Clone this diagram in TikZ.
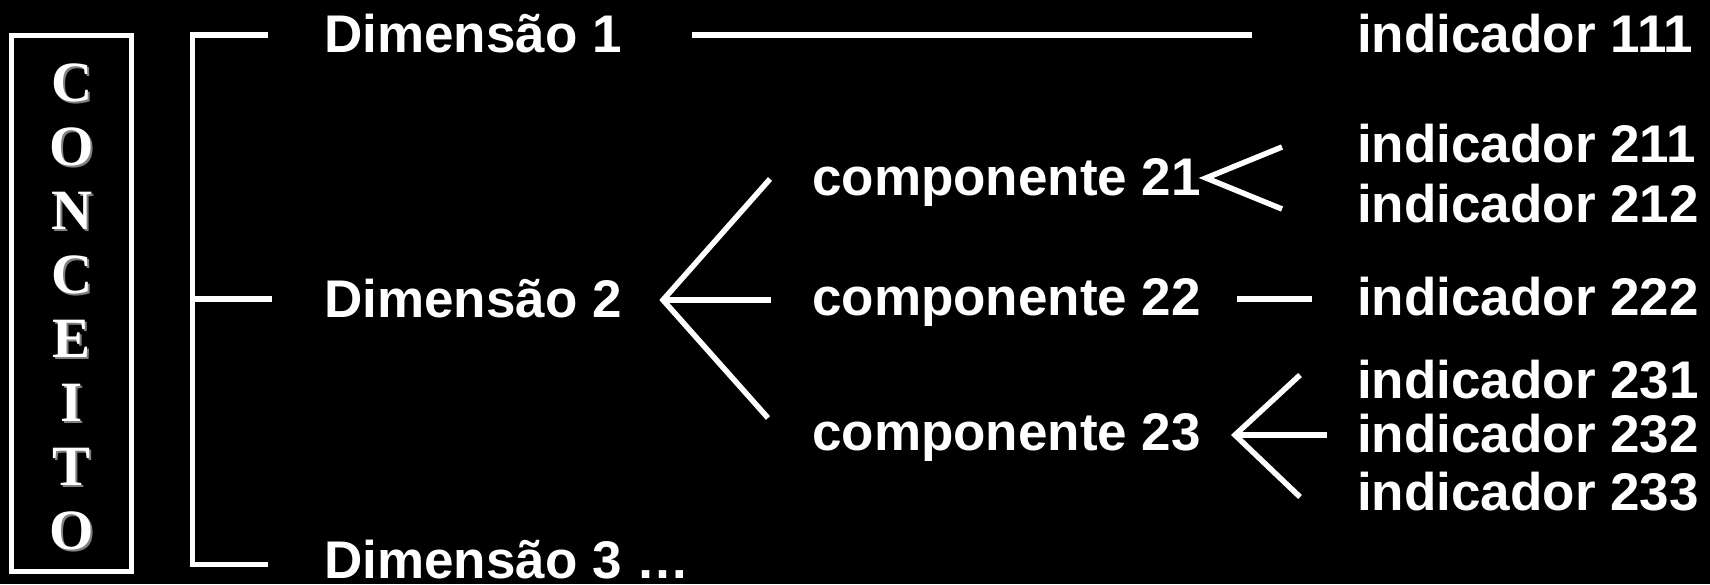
\documentclass[tikz,border=0pt]{standalone}
\usepackage{fontspec}
\setmainfont{Liberation Sans}
\newfontfamily\conceitoFont{Liberation Serif}
\usetikzlibrary{positioning}
\tikzstyle{treeLine} = [color=white, line width=5.5pt]
\tikzstyle{boxLine} = [color=white, line width=5pt]
\tikzstyle{labelText} = [text=white, font=\fontsize{53}{53}\selectfont\bfseries, inner sep=0pt, anchor=base west]
\tikzstyle{letterText} = [font=\conceitoFont\fontsize{57}{57}\selectfont\bfseries, inner sep=0pt, anchor=base]

\begin{document}
\begin{tikzpicture}[x=1pt, y=-1pt]
  \useasboundingbox (0,0) rectangle (1710,584);
  \fill[black] (0,0) rectangle (1710,584);

  % concept box
  \draw[boxLine] (11.5,35) rectangle (131.5,571);
  \foreach \letter [count=\i from 0] in {C,O,N,C,E,I,T,O} {
    \pgfmathsetmacro{\base}{101 + 64 * \i}
    \node[letterText, text=gray] at (74, \base + 2) {\letter};
    \node[letterText, text=white] (letter\i) at (72, \base) {\letter};
  }

  % bracket
  \coordinate (bracketTop) at (192.5,35);
  \coordinate (bracketMid) at (192.5,299);
  \coordinate (bracketBot) at (192.5,564.5);
  \draw[treeLine] (268,35) -- (bracketTop) -- (bracketBot) -- (268,564.5);
  \draw[treeLine] (bracketMid) -- (272,299);

  % dimensions
  \node[labelText] (dim1) at (324,52) {Dimensão 1};
  \node[labelText] (dim2) at (324,317) {Dimensão 2};
  \node[labelText] (dim3) at (324,578) {Dimensão 3 …};

  % components
  \node[labelText] (comp21) at (812,195) {componente 21};
  \node[labelText] (comp22) at (812,315) {componente 22};
  \node[labelText] (comp23) at (812,450) {componente 23};

  % indicators
  \node[labelText] (ind111) at (1357,52) {indicador 111};
  \node[labelText] (ind211) at (1357,162) {indicador 211};
  \node[labelText] (ind212) at (1357,222) {indicador 212};
  \node[labelText] (ind222) at (1357,315) {indicador 222};
  \node[labelText] (ind231) at (1357,398) {indicador 231};
  \node[labelText] (ind232) at (1357,452) {indicador 232};
  \node[labelText] (ind233) at (1357,510) {indicador 233};

  % connectors
  \coordinate (dim1Start) at (692,35);
  \coordinate (dim1End) at (1252,35);
  \draw[treeLine] (dim1Start) -- (dim1End);

  \coordinate (dim2Tip) at (663,300);
  \coordinate (dim2Up) at (770,179);
  \coordinate (dim2Mid) at (771,300);
  \coordinate (dim2Down) at (768,418);
  \draw[treeLine] (dim2Up) -- (dim2Tip) -- (dim2Down);
  \draw[treeLine] (dim2Tip) -- (dim2Mid);

  \coordinate (comp21Tip) at (1206,178);
  \coordinate (comp21Up) at (1282,147);
  \coordinate (comp21Down) at (1282,209);
  \draw[treeLine] (comp21Up) -- (comp21Tip) -- (comp21Down);

  \coordinate (comp22Start) at (1237,299);
  \coordinate (comp22End) at (1312,299);
  \draw[treeLine] (comp22Start) -- (comp22End);

  \coordinate (comp23Tip) at (1235,435);
  \coordinate (comp23Up) at (1300,375);
  \coordinate (comp23Mid) at (1327,435);
  \coordinate (comp23Down) at (1300,497);
  \draw[treeLine] (comp23Up) -- (comp23Tip) -- (comp23Down);
  \draw[treeLine] (comp23Tip) -- (comp23Mid);
\end{tikzpicture}
\end{document}
